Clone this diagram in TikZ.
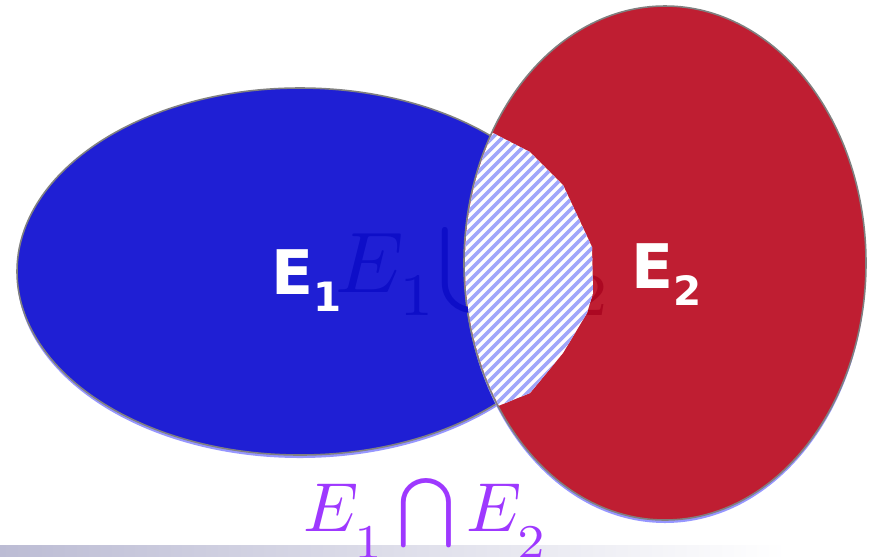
\documentclass[tikz,border=0pt]{standalone}
\usepackage{amsmath}
\usepackage{amssymb}
\usepackage{fontspec}
\usepackage{tikz}
\newfontfamily\setfont{DejaVu Sans}[BoldFont={DejaVu Sans Bold}]
\definecolor{setblue}{RGB}{31,31,212}
\definecolor{setred}{RGB}{191,30,50}
\definecolor{shadowblue}{RGB}{150,150,255}
\definecolor{stripeblue}{RGB}{160,166,250}
\definecolor{capviolet}{RGB}{158,56,255}
\definecolor{barlav}{RGB}{188,188,212}
\definecolor{ghostblue}{RGB}{14,14,200}
\definecolor{ghostred}{RGB}{172,8,34}
\newcommand{\lowsub}[2]{_{\lower#1\hbox{$\scriptstyle #2$}}}

\begin{document}
\begin{tikzpicture}[
  x=0.02cm, y=-0.02cm,
  setfill/.style={draw=gray, line width=0.9pt},
  setlabel/.style={anchor=base west, inner sep=0pt, text=white, font=\setfont\bfseries\fontsize{35}{35}\selectfont},
  ghost/.style={anchor=base west, inner sep=0pt, scale=4.9, text=ghostblue},
  caption/.style={anchor=base west, inner sep=0pt, scale=3.95, text=capviolet}
]
\useasboundingbox (0,0) rectangle (869,556);

% the two sets
\fill[shadowblue] (300,274.5) ellipse [x radius=283, y radius=183.5];
\fill[setblue, setfill] (300,271.5) ellipse [x radius=283, y radius=183.5];
\fill[shadowblue] (665,266) ellipse [x radius=201, y radius=257];
\fill[setred, setfill] (665,263) ellipse [x radius=201, y radius=257];

\node[ghost] (union) at (334,292) {$E\lowsub{1.2pt}{1}\!\bigcup\!{\color{ghostred}E\lowsub{1.2pt}{2}}$};

% hatched intersection
\begin{scope}
  \clip (665,263) ellipse [x radius=200, y radius=256];
  \clip (440,120) -- (493,133) -- (530,152) -- (563,185) -- (592,247) -- (593,293)
    -- (587,313) -- (563,353) -- (530,393) -- (498,406) -- (440,420) -- cycle;
  \fill[white] (440,120) rectangle (600,420);
  \foreach \i in {0,...,60}
    \draw[stripeblue, line width=2pt] (80+10*\i,440) -- ++(330,-330);
\end{scope}

\node[setlabel] (lblA) at (271,294) {E\raisebox{-10pt}{\fontsize{23}{23}\selectfont 1}};
\node[setlabel] (lblB) at (631,288) {E\raisebox{-10pt}{\fontsize{23}{23}\selectfont 2}};

\shade[left color=barlav, right color=white] (0,545) rectangle (786,556);
\node[caption] (inter) at (302,531) {$E\lowsub{2.4pt}{1}\bigcap E\lowsub{2.4pt}{2}$};

\end{tikzpicture}
\end{document}
